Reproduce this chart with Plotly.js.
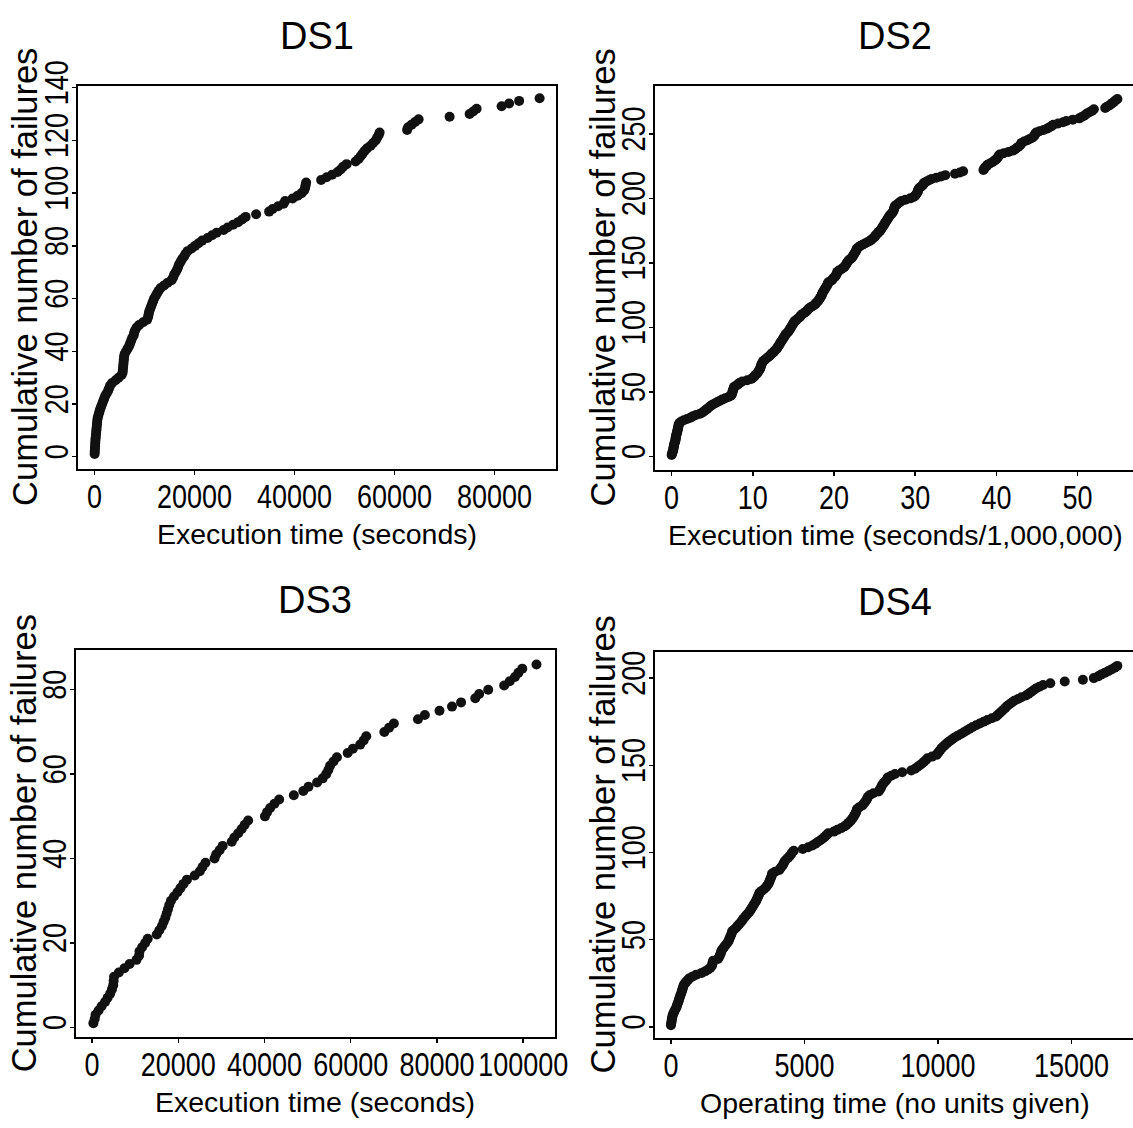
<!DOCTYPE html>
<html><head><meta charset="utf-8">
<script src="https://cdn.plot.ly/plotly-3.0.1.min.js"></script>
<style>html,body{margin:0;padding:0;background:#fff}</style>
</head><body>
<div id="chart" style="width:1133px;height:1128px"></div>
<script>
// Failure times (cumulative execution / operating time at each failure)
const ds1Times = [0,30,60,90,120,150,200,250,300,350,
400,450,500,550,650,800,950,1100,1300,1500,
1700,1900,2100,2400,2700,2900,3100,3500,4200,4800,
5400,5600,5650,5700,5750,5800,5850,5900,6000,6300,
6600,6900,7100,7300,7500,7800,7900,8100,8400,8900,
9700,10500,10700,10800,10900,11100,11300,11500,11700,11900,
12200,12500,12800,13200,13900,14600,15400,15700,15900,16200,
16500,16700,16900,17200,17500,17900,18200,18600,19400,20100,
20800,21500,22600,23500,24400,25800,26600,27700,28700,29500,
30200,32300,34900,35600,36700,37800,38100,39600,40600,41400,
41900,42100,42200,42300,45300,46400,47500,48600,49200,49700,
50400,52200,52800,53200,53600,54000,54500,55200,55700,56200,
56500,56800,57000,62500,62700,63400,64100,64800,71000,75000,
75700,76400,81400,82900,84900,89000];

const ds2Times = [0,0.05,0.1,0.15,0.2,0.22,0.25,0.28,0.3,0.35,
0.4,0.45,0.5,0.5,0.52,0.55,0.6,0.65,0.7,0.72,
0.75,0.8,0.82,0.85,0.9,1.0,1.2,1.5,1.9,2.3,
2.6,3.0,3.5,3.8,4.0,4.2,4.4,4.6,4.8,5.0,
5.3,5.6,5.9,6.2,6.6,7.0,7.3,7.4,7.45,7.5,
7.55,7.6,7.65,7.7,8.0,8.2,8.4,8.7,9.3,9.8,
10.0,10.2,10.3,10.5,10.6,10.7,10.8,10.9,10.95,11.0,
11.05,11.1,11.2,11.3,11.5,11.7,11.9,12.1,12.2,12.4,
12.6,12.7,12.9,13.0,13.1,13.2,13.3,13.4,13.5,13.6,
13.7,13.8,13.9,14.0,14.1,14.3,14.4,14.5,14.6,14.7,
14.8,14.9,15.0,15.05,15.2,15.4,15.6,15.8,15.9,16.0,
16.3,16.5,16.7,16.8,17.0,17.2,17.5,17.7,17.8,18.0,
18.1,18.2,18.3,18.4,18.5,18.55,18.6,18.7,18.8,18.9,
19.0,19.1,19.2,19.25,19.3,19.6,19.8,19.9,20.1,20.2,
20.3,20.35,20.4,20.6,20.9,21.1,21.3,21.4,21.5,21.6,
21.7,21.8,22.0,22.2,22.3,22.4,22.5,22.6,22.7,22.75,
22.8,23.0,23.2,23.5,23.8,24.1,24.4,24.6,24.8,25.0,
25.1,25.2,25.4,25.5,25.7,25.8,25.9,26.0,26.1,26.2,
26.3,26.4,26.5,26.6,26.7,26.8,26.9,27.1,27.2,27.3,
27.35,27.4,27.45,27.5,27.7,27.9,28.1,28.3,28.8,29.4,
29.8,30.0,30.1,30.2,30.3,30.35,30.4,30.5,30.7,30.9,
31.0,31.1,31.4,31.7,32.0,32.6,33.2,33.7,34.9,35.5,
35.9,38.4,38.5,38.6,38.8,38.9,39.2,39.5,39.7,39.9,
40.1,40.2,40.3,40.4,40.9,41.5,42.0,42.3,42.5,42.7,
42.9,43.0,43.1,43.4,43.8,44.1,44.4,44.6,44.7,44.8,
44.9,45.3,45.8,46.2,46.5,46.8,47.0,47.6,48.2,48.6,
49.4,50.2,50.5,50.8,51.0,51.2,51.5,51.8,52.0,53.4,
53.6,53.9,54.1,54.3,54.5,54.7,54.9];

const ds3Times = [300,600,800,1500,2200,3000,3600,4200,4600,4900,
5000,5100,6200,7500,8700,10300,10900,11000,11600,12300,
12900,15000,15600,16200,16600,17000,17300,17600,17900,18300,
19000,19800,20500,21200,22000,23800,25000,25600,26300,28400,
28800,29600,30300,32400,33000,33900,34700,35400,36200,40100,
40600,41300,42300,43400,46800,49000,50200,52200,53500,54300,
54800,55200,56000,56800,59300,60500,62200,63000,63600,67800,
68900,70000,75600,77200,80600,83500,85600,88900,89800,91900,
95600,96900,98100,98900,99800,103100];

const ds4Times = [0,10,20,30,40,55,70,100,130,160,
200,220,240,270,290,310,330,350,380,400,
420,440,460,480,520,580,640,700,820,950,
1150,1290,1400,1480,1530,1550,1560,1580,1760,1800,
1830,1860,1880,1900,1950,2000,2050,2100,2150,2180,
2200,2230,2260,2280,2300,2380,2450,2500,2560,2620,
2670,2710,2770,2820,2880,2940,2980,3020,3060,3100,
3140,3180,3210,3240,3270,3300,3320,3400,3480,3550,
3600,3650,3680,3700,3730,3760,3780,3790,3900,4060,
4100,4150,4200,4230,4260,4320,4390,4450,4500,4540,
4600,4940,5140,5300,5410,5500,5600,5690,5760,5830,
5890,6100,6230,6380,6500,6580,6650,6720,6770,6820,
6860,6900,6930,6950,6970,7050,7170,7220,7270,7320,
7350,7380,7450,7580,7780,7820,7860,7890,7920,7980,
8040,8090,8120,8250,8390,8660,9000,9140,9230,9320,
9410,9480,9550,9610,9780,9950,10000,10050,10100,10150,
10220,10290,10360,10450,10540,10630,10740,10860,10970,11080,
11190,11300,11430,11570,11710,11850,12020,12180,12250,12320,
12390,12460,12530,12590,12680,12770,12860,13000,13130,13300,
13400,13490,13580,13670,13800,13940,14210,14750,15430,15840,
16000,16110,16250,16380,16500,16620,16720];

const panelTitles = ["DS1", "DS2", "DS3", "DS4"];
const xTitles = ["Execution time (seconds)", "Execution time (seconds/1,000,000)",
                 "Execution time (seconds)", "Operating time (no units given)"];
const yTitle = "Cumulative number of failures";

const ds1XTicks = [0, 20000, 40000, 60000, 80000];
const ds1YTicks = [0, 20, 40, 60, 80, 100, 120, 140];
const ds2XTicks = [0, 10, 20, 30, 40, 50];
const ds2YTicks = [0, 50, 100, 150, 200, 250];
const ds3XTicks = [0, 20000, 40000, 60000, 80000, 100000];
const ds3YTicks = [0, 20, 40, 60, 80];
const ds4XTicks = [0, 5000, 10000, 15000];
const ds4YTicks = [0, 50, 100, 150, 200];

// ---- build ----
const allTimes = [ds1Times, ds2Times, ds3Times, ds4Times];
const xTicks = [ds1XTicks, ds2XTicks, ds3XTicks, ds4XTicks];
const yTicks = [ds1YTicks, ds2YTicks, ds3YTicks, ds4YTicks];

// geometry (paper fractions) and axis ranges
const geo = [
  {xd: [0.0685, 0.4903], yd: [0.5842, 0.9241], xr: [-3400, 92180], yr: [-4.67, 140.8], right: true},
  {xd: [0.5778, 1.0],    yd: [0.5833, 0.9240], xr: [-2.09, 56.82], yr: [-10.6, 287.3], right: false},
  {xd: [0.0669, 0.4898], yd: [0.0806, 0.4237], xr: [-3782, 107380], yr: [-2.3, 89.4], right: true},
  {xd: [0.5778, 1.0],    yd: [0.0799, 0.4222], xr: [-610, 17307],  yr: [-6.25, 215.1], right: false}
];
const W = 1133, H = 1128;
const tickFont = {family: "'Liberation Sans', Arial, Helvetica, sans-serif", size: 32.5, color: '#000'};
const titleFamily = "'Liberation Sans', Arial, Helvetica, sans-serif";

const traces = [];
const layout = {
  width: W, height: H,
  margin: {l: 0, r: 0, t: 0, b: 0},
  paper_bgcolor: '#fff', plot_bgcolor: '#fff',
  showlegend: false,
  annotations: []
};

allTimes.forEach((times, i) => {
  const n = i === 0 ? '' : String(i + 1);
  const counts = times.map((t, k) => k + 1); // cumulative number of failures
  traces.push({
    type: 'scatter', mode: 'markers',
    x: times, y: counts,
    xaxis: 'x' + n, yaxis: 'y' + n,
    marker: {color: '#111', size: 10, line: {width: 0}},
    cliponaxis: false, hoverinfo: 'x+y'
  });
  const g = geo[i];
  const common = {
    showline: true, linewidth: 2, linecolor: '#000',
    ticks: 'outside', ticklen: 4, tickwidth: 1.5, tickcolor: '#000',
    showgrid: false, zeroline: false, tickfont: tickFont, fixedrange: true
  };
  layout['xaxis' + n] = Object.assign({}, common, {
    domain: g.xd, range: g.xr, anchor: 'y' + n, mirror: true,
    tickvals: xTicks[i], ticktext: xTicks[i].map(String), tickangle: 0, ticklabelstandoff: -6
  });
  layout['yaxis' + n] = Object.assign({}, common, {
    domain: g.yd, range: g.yr, anchor: 'x' + n, mirror: g.right,
    tickvals: yTicks[i], ticktext: yTicks[i].map(String), tickangle: -90, ticklabelstandoff: -9
  });
  const boxRightPx = g.right ? g.xd[1] * W : 1136;
  const cx = (g.xd[0] * W + boxRightPx) / 2 / W;
  const topPx = (1 - g.yd[1]) * H;
  const botPx = (1 - g.yd[0]) * H;
  layout.annotations.push({
    text: panelTitles[i], xref: 'paper', yref: 'paper',
    x: cx, y: 1 - (topPx - 50) / H, xanchor: 'center', yanchor: 'middle',
    showarrow: false, font: {family: titleFamily, size: 38, color: '#000'}
  });
  layout.annotations.push({
    text: xTitles[i], xref: 'paper', yref: 'paper',
    x: cx, y: 1 - (botPx + 65) / H, xanchor: 'center', yanchor: 'middle',
    showarrow: false, font: {family: titleFamily, size: 28.5, color: '#000'}
  });
  layout.annotations.push({
    text: yTitle, xref: 'paper', yref: 'paper', textangle: -90,
    x: (g.xd[0] * W - 52) / W, y: (g.yd[0] + g.yd[1]) / 2,
    xanchor: 'center', yanchor: 'middle',
    showarrow: false, font: {family: titleFamily, size: 34.5, color: '#000'}
  });
});

// The reference uses a narrow sans face for tick numbers: condense the installed face.
const CONDENSE = 0.83;
function condenseTicks() {
  const gd = document.getElementById('chart');
  gd.querySelectorAll('.xaxislayer-above text, .yaxislayer-above text').forEach(t => {
    t.removeAttribute('textLength');
    t.removeAttribute('lengthAdjust');
    const w = t.getComputedTextLength();
    if (w > 0) {
      t.setAttribute('textLength', (w * CONDENSE).toFixed(1));
      t.setAttribute('lengthAdjust', 'spacingAndGlyphs');
    }
  });
}
Plotly.newPlot('chart', traces, layout, {displayModeBar: false, staticPlot: true})
  .then(gd => {
    condenseTicks();
    gd.on('plotly_afterplot', condenseTicks);
    requestAnimationFrame(condenseTicks);
    setTimeout(condenseTicks, 30);
    setTimeout(condenseTicks, 200);
  });
</script>
</body></html>
